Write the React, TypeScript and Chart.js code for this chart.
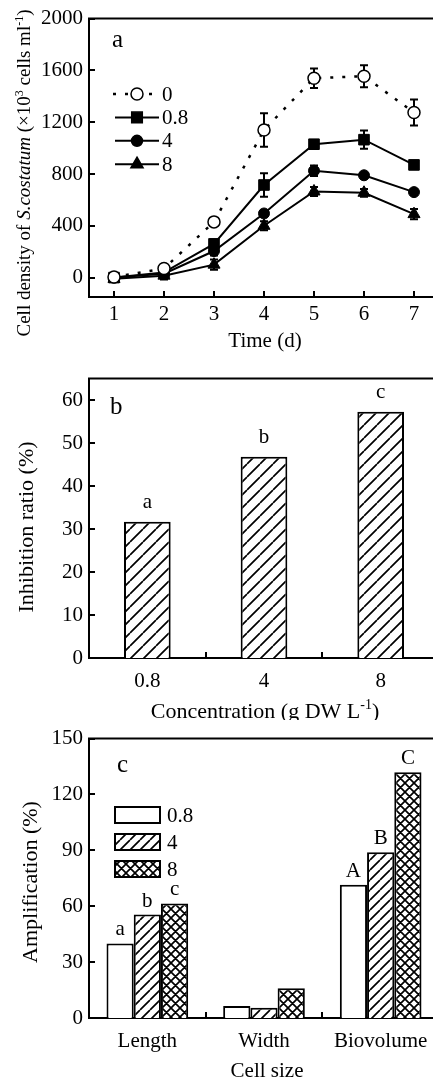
import React, { useEffect, useRef } from "react";
import { Chart, registerables } from "chart.js";
Chart.register(...registerables);

const SERIF = '"Liberation Serif", "Times New Roman", Times, serif';

// ---------- Panel a : growth curves ----------
const days = [1, 2, 3, 4, 5, 6, 7];
const legendA = ["0", "0.8", "4", "8"];
const dens0 = [5, 70, 430, 1140, 1540, 1555, 1275];
const err0 = [15, 20, 25, 130, 75, 85, 100];
const dens08 = [0, 40, 260, 715, 1030, 1065, 870];
const err08 = [15, 15, 35, 90, 20, 70, 25];
const dens4 = [0, 30, 205, 495, 825, 790, 660];
const err4 = [15, 15, 35, 25, 40, 20, 20];
const dens8 = [-10, 15, 100, 400, 665, 655, 490];
const err8 = [20, 30, 40, 35, 35, 30, 40];
const yTicksA = [0, 400, 800, 1200, 1600, 2000];

// ---------- Panel b : inhibition ratio ----------
const concLabels = ["0.8", "4", "8"];
const inhibition = [31.7, 46.8, 57.3];
const inhibLetters = ["a", "b", "c"];
const yTicksB = [0, 10, 20, 30, 40, 50, 60];

// ---------- Panel c : amplification ----------
const sizeLabels = ["Length", "Width", "Biovolume"];
const legendC = ["0.8", "4", "8"];
const amp08 = [40, 6.5, 71.5];
const amp4 = [55.5, 5.5, 89];
const amp8 = [61.5, 16, 132];
const letters08 = ["a", "", "A"];
const letters4 = ["b", "", "B"];
const letters8 = ["c", "", "C"];
const yTicksC = [0, 30, 60, 90, 120, 150];

const CW = 460;

type Seg = { t: string; it?: boolean; sup?: boolean };

function drawRich(ctx: CanvasRenderingContext2D, segs: Seg[], cx: number, cy: number, size: number, vertical: boolean) {
  ctx.save();
  ctx.translate(cx, cy);
  if (vertical) ctx.rotate(-Math.PI / 2);
  const fontFor = (s: Seg) => `${s.it ? "italic " : ""}${s.sup ? Math.round(size * 0.62) : size}px ${SERIF}`;
  let total = 0;
  const widths = segs.map((s) => {
    ctx.font = fontFor(s);
    const w = ctx.measureText(s.t).width;
    total += w;
    return w;
  });
  let x = -total / 2;
  ctx.fillStyle = "#000";
  ctx.textAlign = "left";
  ctx.textBaseline = "alphabetic";
  const base = size * 0.33;
  segs.forEach((s, i) => {
    ctx.font = fontFor(s);
    ctx.fillText(s.t, x, base - (s.sup ? size * 0.4 : 0));
    x += widths[i];
  });
  ctx.restore();
}

function drawMarker(ctx: CanvasRenderingContext2D, style: string, fill: string, x: number, y: number, r: number) {
  ctx.save();
  ctx.fillStyle = fill;
  ctx.strokeStyle = "#000";
  ctx.lineWidth = 1.5;
  ctx.beginPath();
  if (style === "rect") {
    const h = r * Math.SQRT1_2;
    ctx.rect(x - h, y - h, 2 * h, 2 * h);
  } else if (style === "triangle") {
    let a = 0;
    ctx.moveTo(x + Math.sin(a) * r, y - Math.cos(a) * r);
    a += (2 * Math.PI) / 3;
    ctx.lineTo(x + Math.sin(a) * r, y - Math.cos(a) * r);
    a += (2 * Math.PI) / 3;
    ctx.lineTo(x + Math.sin(a) * r, y - Math.cos(a) * r);
    ctx.closePath();
  } else {
    ctx.arc(x, y, r, 0, Math.PI * 2);
  }
  ctx.fill();
  ctx.stroke();
  ctx.restore();
}

function makePattern(size: number, cross: boolean): CanvasPattern {
  const c = document.createElement("canvas");
  c.width = size;
  c.height = size;
  const g = c.getContext("2d")!;
  g.fillStyle = "#fff";
  g.fillRect(0, 0, size, size);
  g.strokeStyle = "#000";
  g.lineWidth = 1.7;
  g.beginPath();
  for (let k = -1; k <= 1; k++) {
    g.moveTo(k * size, size);
    g.lineTo(k * size + size, 0);
    if (cross) {
      g.moveTo(k * size, 0);
      g.lineTo(k * size + size, size);
    }
  }
  g.stroke();
  return g.createPattern(c, "repeat")!;
}

type FrameCfg = {
  xTitle: Seg[];
  xTitlePos: [number, number];
  xTitleSize: number;
  yTitle: Seg[];
  yTitlePos: [number, number];
  yTitleSize: number;
  label: string;
  labelPos: [number, number];
};

function framePlugin(cfg: FrameCfg) {
  return {
    id: "frame",
    afterDraw(chart: any) {
      const { ctx, chartArea: ca } = chart;
      const xs = chart.scales.x;
      const ys = chart.scales.y;
      ctx.save();
      ctx.strokeStyle = "#000";
      ctx.lineWidth = 2;
      ctx.beginPath();
      ctx.moveTo(ca.left - 1, ca.top);
      ctx.lineTo(ca.right + 1, ca.top);
      ys.ticks.forEach((t: any) => {
        const p = Math.round(ys.getPixelForValue(t.value));
        ctx.moveTo(ca.left, p);
        ctx.lineTo(ca.left + 6, p);
      });
      if (xs.type === "category") {
        const n = xs.getLabels().length;
        for (let i = 0; i < n - 1; i++) {
          const p = Math.round((xs.getPixelForValue(i) + xs.getPixelForValue(i + 1)) / 2);
          ctx.moveTo(p, ca.bottom);
          ctx.lineTo(p, ca.bottom - 6);
        }
      } else {
        xs.ticks.forEach((t: any) => {
          const p = Math.round(xs.getPixelForValue(t.value));
          ctx.moveTo(p, ca.bottom);
          ctx.lineTo(p, ca.bottom - 6);
        });
      }
      ctx.stroke();
      ctx.restore();
      drawRich(ctx, cfg.xTitle, cfg.xTitlePos[0], cfg.xTitlePos[1], cfg.xTitleSize, false);
      drawRich(ctx, cfg.yTitle, cfg.yTitlePos[0], cfg.yTitlePos[1], cfg.yTitleSize, true);
      ctx.save();
      ctx.fillStyle = "#000";
      ctx.font = `25px ${SERIF}`;
      ctx.textAlign = "left";
      ctx.textBaseline = "alphabetic";
      ctx.fillText(cfg.label, cfg.labelPos[0], cfg.labelPos[1]);
      ctx.restore();
    },
  };
}

function axisCommon(tickVals: number[] | null, fit: (s: any) => void, padding: number) {
  return {
    grid: { display: false, drawTicks: false, tickLength: 0 },
    border: { display: true, color: "#000", width: 2 },
    ticks: {
      color: "#000",
      font: { family: SERIF, size: 21 },
      padding,
      maxRotation: 0,
      autoSkip: false,
      callback: function (this: any, v: any) {
        if (this.type === "category") return this.getLabelForValue(v);
        return String(v);
      },
    },
    afterBuildTicks: tickVals
      ? (s: any) => {
          s.ticks = tickVals.map((v) => ({ value: v }));
        }
      : undefined,
    afterFit: fit,
  };
}

function buildA(canvas: HTMLCanvasElement) {
  const errs = [err0, err08, err4, err8];
  const mk = (vals: number[]) => days.map((d, i) => ({ x: d, y: vals[i] }));
  const base = {
    borderColor: "#000",
    borderWidth: 2,
    tension: 0,
    pointBorderColor: "#000",
    pointBackgroundColor: "#000",
    pointBorderWidth: 1,
    fill: false,
  };
  const errorPlugin = {
    id: "errbars",
    beforeDatasetsDraw(chart: any) {
      const { ctx } = chart;
      const xs = chart.scales.x;
      const ys = chart.scales.y;
      ctx.save();
      ctx.strokeStyle = "#000";
      ctx.lineWidth = 2;
      chart.data.datasets.forEach((ds: any, di: number) => {
        const e = errs[di];
        ds.data.forEach((p: any, i: number) => {
          const x = xs.getPixelForValue(p.x);
          const y1 = ys.getPixelForValue(p.y + e[i]);
          const y2 = ys.getPixelForValue(p.y - e[i]);
          ctx.beginPath();
          ctx.moveTo(x, y1);
          ctx.lineTo(x, y2);
          ctx.moveTo(x - 4, y1);
          ctx.lineTo(x + 4, y1);
          ctx.moveTo(x - 4, y2);
          ctx.lineTo(x + 4, y2);
          ctx.stroke();
        });
      });
      ctx.restore();
    },
  };
  const legendPlugin = {
    id: "legendA",
    afterDraw(chart: any) {
      const { ctx } = chart;
      chart.data.datasets.forEach((ds: any, i: number) => {
        const y = 94 + i * 23.4;
        ctx.save();
        ctx.strokeStyle = "#000";
        ctx.lineWidth = ds.borderWidth;
        ctx.setLineDash(ds.borderDash || []);
        ctx.beginPath();
        ctx.moveTo(ds.borderDash ? 113 : 115, y);
        ctx.lineTo(159, y);
        ctx.stroke();
        ctx.restore();
        drawMarker(ctx, ds.pointStyle, ds.pointBackgroundColor, 137, y, ds.pointRadius);
        ctx.save();
        ctx.fillStyle = "#000";
        ctx.font = `21px ${SERIF}`;
        ctx.textAlign = "left";
        ctx.textBaseline = "middle";
        ctx.fillText(legendA[i], 162, y + 1);
        ctx.restore();
      });
    },
  };
  return new Chart(canvas, {
    type: "line",
    data: {
      datasets: [
        { ...base, label: legendA[0], data: mk(dens0), borderWidth: 2.5, borderDash: [3, 9], pointStyle: "circle", pointRadius: 6, pointBackgroundColor: "#fff", pointBorderWidth: 1.5 },
        { ...base, label: legendA[1], data: mk(dens08), pointStyle: "rect", pointRadius: 7.5 },
        { ...base, label: legendA[2], data: mk(dens4), pointStyle: "circle", pointRadius: 5.5 },
        { ...base, label: legendA[3], data: mk(dens8), pointStyle: "triangle", pointRadius: 7 },
      ],
    } as any,
    options: {
      animation: false,
      responsive: false,
      events: [],
      layout: { padding: { left: 0, top: 17, right: CW - 439, bottom: 0 } },
      plugins: { legend: { display: false }, tooltip: { enabled: false } },
      scales: {
        x: { type: "linear", min: 0.5, max: 7.5, ...axisCommon(days, (s: any) => { s.height = 360 - 297; }, 5) },
        y: { type: "linear", min: -150, max: 2000, ...axisCommon(yTicksA, (s: any) => { s.width = 89; }, 6) },
      },
    } as any,
    plugins: [
      errorPlugin,
      legendPlugin,
      framePlugin({
        xTitle: [{ t: "Time (d)" }],
        xTitlePos: [265, 340],
        xTitleSize: 21,
        yTitle: [
          { t: "Cell density of " },
          { t: "S.costatum", it: true },
          { t: " (×10" },
          { t: "3", sup: true },
          { t: " cells ml" },
          { t: "-1", sup: true },
          { t: ")" },
        ],
        yTitlePos: [24, 173],
        yTitleSize: 19,
        label: "a",
        labelPos: [112, 47],
      }),
    ] as any,
  });
}

function letterPlugin(letters: string[][], gap: number) {
  return {
    id: "letters",
    afterDatasetsDraw(chart: any) {
      const { ctx } = chart;
      ctx.save();
      ctx.fillStyle = "#000";
      ctx.font = `21px ${SERIF}`;
      ctx.textAlign = "center";
      ctx.textBaseline = "alphabetic";
      letters.forEach((row, di) => {
        const meta = chart.getDatasetMeta(di);
        row.forEach((t, i) => {
          if (!t) return;
          const el = meta.data[i];
          ctx.fillText(t, el.x, el.y - gap);
        });
      });
      ctx.restore();
    },
  };
}

function buildB(canvas: HTMLCanvasElement) {
  const hatch = makePattern(13, false);
  return new Chart(canvas, {
    type: "bar",
    data: {
      labels: concLabels,
      datasets: [
        {
          label: "Inhibition ratio",
          data: inhibition,
          backgroundColor: hatch,
          borderColor: "#000",
          borderWidth: 2,
          barPercentage: 0.4,
          categoryPercentage: 1,
        },
      ],
    } as any,
    options: {
      animation: false,
      responsive: false,
      events: [],
      layout: { padding: { left: 0, top: 18, right: CW - 439, bottom: 0 } },
      plugins: { legend: { display: false }, tooltip: { enabled: false } },
      scales: {
        x: { type: "category", offset: true, ...axisCommon(null, (s: any) => { s.height = 360 - 298; }, 11) },
        y: { type: "linear", min: 0, max: 65, ...axisCommon(yTicksB, (s: any) => { s.width = 89; }, 6) },
      },
    } as any,
    plugins: [
      letterPlugin([inhibLetters], 14),
      framePlugin({
        xTitle: [{ t: "Concentration (g DW L" }, { t: "-1", sup: true }, { t: ")" }],
        xTitlePos: [265, 351],
        xTitleSize: 22,
        yTitle: [{ t: "Inhibition ratio (%)" }],
        yTitlePos: [26, 167],
        yTitleSize: 22,
        label: "b",
        labelPos: [110, 54],
      }),
    ] as any,
  });
}

function buildC(canvas: HTMLCanvasElement) {
  const diag = makePattern(10, false);
  const cross = makePattern(9, true);
  const fills = ["#fff", diag, cross];
  const legendPlugin = {
    id: "legendC",
    afterDraw(chart: any) {
      const { ctx } = chart;
      legendC.forEach((lab, i) => {
        const y = 95 + i * 27;
        ctx.save();
        ctx.fillStyle = fills[i];
        ctx.fillRect(115, y - 8, 45, 16);
        ctx.strokeStyle = "#000";
        ctx.lineWidth = 2;
        ctx.strokeRect(115, y - 8, 45, 16);
        ctx.fillStyle = "#000";
        ctx.font = `21px ${SERIF}`;
        ctx.textAlign = "left";
        ctx.textBaseline = "middle";
        ctx.fillText(lab, 167, y + 1);
        ctx.restore();
      });
    },
  };
  const ds = (label: string, data: number[], i: number) => ({
    label,
    data,
    backgroundColor: fills[i],
    borderColor: "#000",
    borderWidth: 2,
    barPercentage: 1,
    categoryPercentage: 0.7,
  });
  return new Chart(canvas, {
    type: "bar",
    data: {
      labels: sizeLabels,
      datasets: [ds(legendC[0], amp08, 0), ds(legendC[1], amp4, 1), ds(legendC[2], amp8, 2)],
    } as any,
    options: {
      animation: false,
      responsive: false,
      events: [],
      layout: { padding: { left: 0, top: 18, right: CW - 439, bottom: 0 } },
      plugins: { legend: { display: false }, tooltip: { enabled: false } },
      scales: {
        x: { type: "category", offset: true, ...axisCommon(null, (s: any) => { s.height = 363 - 298; }, 11) },
        y: { type: "linear", min: 0, max: 150, ...axisCommon(yTicksC, (s: any) => { s.width = 89; }, 6) },
      },
    } as any,
    plugins: [
      letterPlugin([letters08, letters4, letters8], 8),
      legendPlugin,
      framePlugin({
        xTitle: [{ t: "Cell size" }],
        xTitlePos: [267, 350],
        xTitleSize: 21,
        yTitle: [{ t: "Amplification (%)" }],
        yTitlePos: [30, 162],
        yTitleSize: 22,
        label: "c",
        labelPos: [117, 52],
      }),
    ] as any,
  });
}

function Panel({ top, height, build }: { top: number; height: number; build: (c: HTMLCanvasElement) => Chart }) {
  const ref = useRef<HTMLCanvasElement>(null);
  useEffect(() => {
    const chart = build(ref.current!);
    return () => chart.destroy();
  }, []);
  return (
    <canvas
      ref={ref}
      width={CW}
      height={height}
      style={{ position: "absolute", left: 0, top, width: CW, height, display: "block" }}
    />
  );
}

export default function App() {
  return (
    <div
      style={{
        position: "absolute",
        left: 0,
        top: 0,
        width: 433,
        height: 1083,
        overflow: "hidden",
        background: "#fff",
      }}
    >
      <Panel top={0} height={360} build={buildA} />
      <Panel top={360} height={360} build={buildB} />
      <Panel top={720} height={363} build={buildC} />
    </div>
  );
}
